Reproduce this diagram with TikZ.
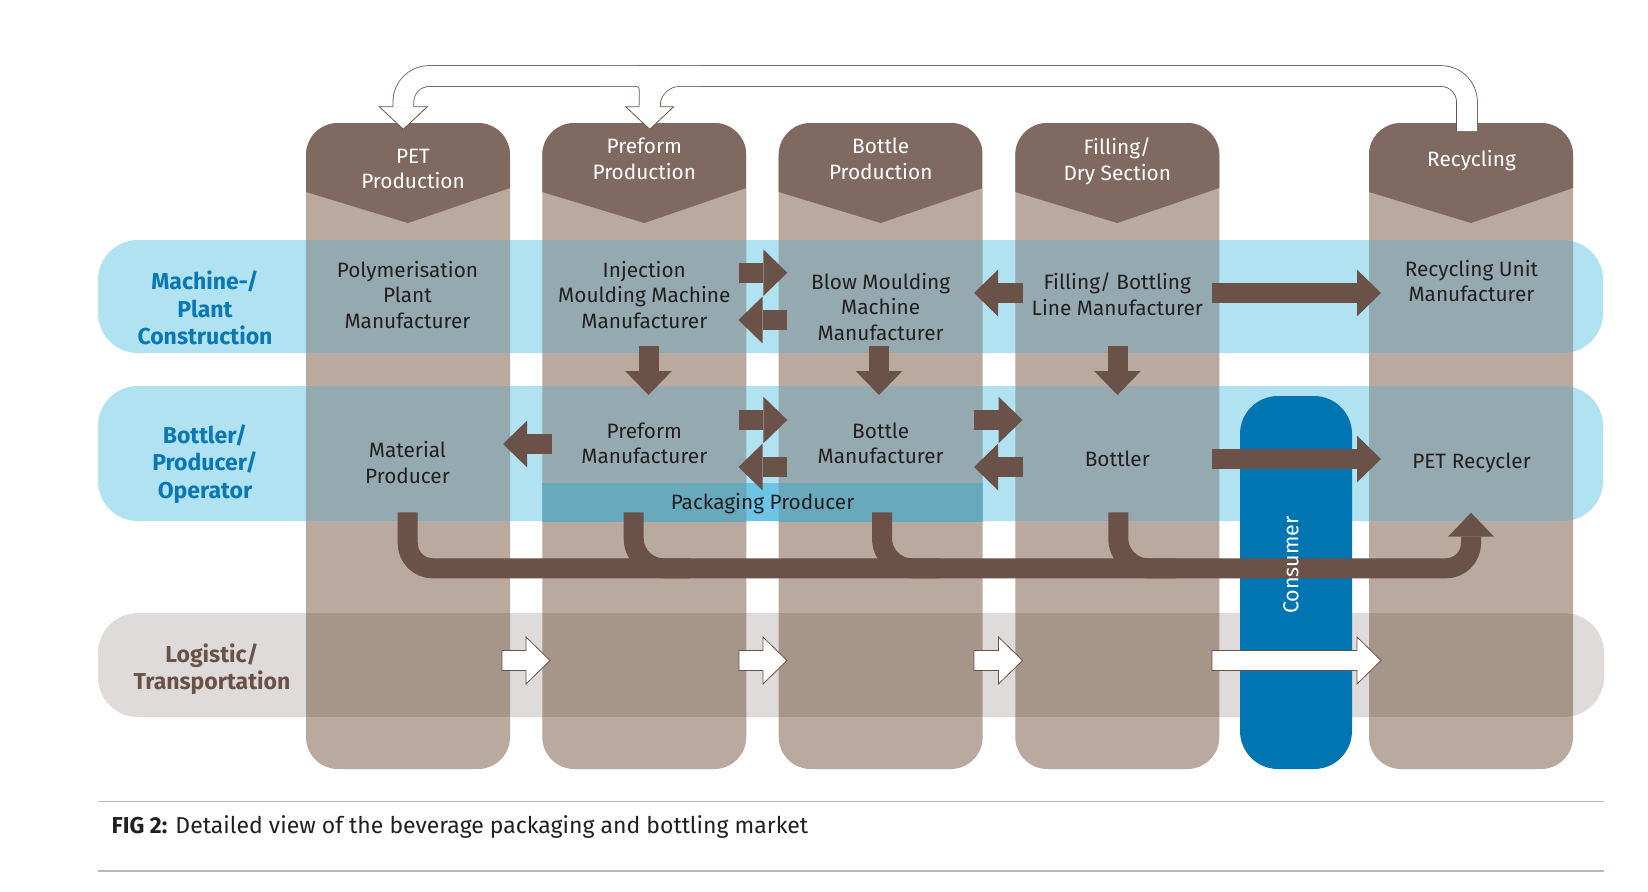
\documentclass[tikz,border=0pt]{standalone}
\usepackage{fontspec}
\setmainfont{Fira Sans}
\usetikzlibrary{calc,arrows.meta}
\definecolor{colbg}{HTML}{BAA99E}
\definecolor{colhd}{HTML}{7F6961}
\definecolor{bandblue}{HTML}{B0E2F1}
\definecolor{ovblue}{HTML}{95A9B0}
\definecolor{bandgrey}{HTML}{E0DBDB}
\definecolor{ovgrey}{HTML}{A69589}
\definecolor{packgap}{HTML}{6CC5E4}
\definecolor{packcol}{HTML}{69A9BC}
\definecolor{consumerblue}{HTML}{0075B1}
\definecolor{arrowbrown}{HTML}{6B5249}
\definecolor{rowblue}{HTML}{0B77B3}
\definecolor{rulegrey}{HTML}{BFB7B2}
\definecolor{celltxt}{HTML}{231F20}
\newcommand\colpath[1]{[rounded corners=32pt] (#1,123) rectangle ++(204,646)}
\newcommand\whitearrow[2]{%
  \coordinate (wac) at ($(#2)!24pt!(#1)$);
  \filldraw[fill=white, draw=arrowbrown, line width=0.8pt, line join=miter]
    ($(#1)!10pt!90:(#2)$) -- ($(wac)!10pt!-90:(#1)$) -- ($(wac)!23.5pt!-90:(#1)$) -- (#2)
    -- ($(wac)!23.5pt!90:(#1)$) -- ($(wac)!10pt!90:(#1)$) -- ($(#1)!10pt!-90:(#2)$) -- cycle;}
\tikzset{
  celltext/.style={align=center, inner sep=0pt, text=celltxt, font=\fontsize{20.8}{25.5}\selectfont},
  headtext/.style={align=center, inner sep=0pt, text=white, font=\fontsize{20.8}{25.8}\selectfont},
  rowlabel/.style={align=center, inner sep=0pt, font=\bfseries\fontsize{23}{27.5}\selectfont},
  brownarrow/.style={draw=arrowbrown, line width=20pt, -{Triangle[length=24pt, width=46.7pt, line width=0pt]}},
  flowbar/.style={draw=arrowbrown, line width=20pt, rounded corners=25pt},
  retout/.style={draw=arrowbrown, line width=21.6pt},
  retin/.style={draw=white, line width=20pt},
}
\begin{document}
\begin{tikzpicture}[x=1pt,y=-1pt]
\fill[white] (0,0) rectangle (1648,891);
\useasboundingbox (0,0) rectangle (1648,891);
% columns
\foreach \cx in {306,542.3,778.7,1015.3,1369}{
  \fill[colbg] \colpath{\cx};
  \begin{scope}
    \clip \colpath{\cx};
    \fill[colhd] (\cx,100) -- ++(204,0) -- ++(0,88) -- ++(-102,35) -- ++(-102,-31) -- cycle;
  \end{scope}
}
% bands
\fill[bandblue, rounded corners=40pt] (98,240) rectangle (1603,353);
\fill[bandblue, rounded corners=40pt] (98,386) rectangle (1603,521);
\fill[bandgrey, rounded corners=40pt] (98,613) rectangle (1604,717);
\begin{scope}
  \clip[rounded corners=40pt] (98,240) rectangle (1603,353);
  \foreach \cx in {306,542.3,778.7,1015.3,1369}{\fill[ovblue] \colpath{\cx};}
\end{scope}
\begin{scope}
  \clip[rounded corners=40pt] (98,386) rectangle (1603,521);
  \foreach \cx in {306,542.3,778.7,1015.3,1369}{\fill[ovblue] \colpath{\cx};}
\end{scope}
\begin{scope}
  \clip[rounded corners=40pt] (98,613) rectangle (1604,717);
  \foreach \cx in {306,542.3,778.7,1015.3,1369}{\fill[ovgrey] \colpath{\cx};}
\end{scope}
% packaging producer strip
\fill[packgap] (542.3,483.3) rectangle (982.7,521);
\begin{scope}
  \clip (542.3,483.3) rectangle (982.7,521);
  \foreach \cx in {542.3,778.7}{\fill[packcol] \colpath{\cx};}
\end{scope}
% consumer pillar
\fill[consumerblue, rounded corners=38pt] (1240,396) rectangle (1352,769);

% header texts
\node[headtext] (hPET) at (413,169) {PET\\Production};
\node[headtext] (hPre) at (644.3,159) {Preform\\Production};
\node[headtext] (hBot) at (880.7,159) {Bottle\\Production};
\node[headtext] (hFil) at (1117.3,161) {Filling/\\Dry Section};
\node[headtext] (hRec) at (1471.5,161) {Recycling};
% row labels
\node[rowlabel, text=rowblue] (rMach) at (205,308) {Machine-/\\Plant\\Construction};
\node[rowlabel, text=rowblue] (rBott) at (205,464) {Bottler/\\Producer/\\Operator};
\node[rowlabel, text=arrowbrown] (rLog) at (212,669) {Logistic/\\Transportation};
% cell texts
\node[celltext] (cPoly) at (407.5,295) {Polymerisation\\Plant\\Manufacturer};
\node[celltext] (cInj) at (644.3,295) {Injection\\Moulding Machine\\Manufacturer};
\node[celltext] (cBlow) at (880.7,307) {Blow Moulding\\Machine\\Manufacturer};
\node[celltext] (cFill) at (1117.3,294) {Filling/ Bottling\\Line Manufacturer};
\node[celltext] (cRecU) at (1471.5,281) {Recycling Unit\\Manufacturer};
\node[celltext] (cMat) at (407.5,462.5) {Material\\Producer};
\node[celltext] (cPreM) at (644.3,443.5) {Preform\\Manufacturer};
\node[celltext] (cBotM) at (880.7,443.5) {Bottle\\Manufacturer};
\node[celltext] (cBottler) at (1117.3,459) {Bottler};
\node[celltext] (cPETR) at (1471.5,463) {PET Recycler};
\node[celltext] (pack) at (762.5,504) {Packaging Producer};

% arrow end points
\coordinate (a1s) at (738.5,272.7); \coordinate (a1e) at (787.3,272.7);
\coordinate (a2s) at (787.3,320);   \coordinate (a2e) at (738.5,320);
\coordinate (a3s) at (1022.5,293);  \coordinate (a3e) at (974,293);
\coordinate (a4s) at (1212,293);    \coordinate (a4e) at (1381,293);
\coordinate (d1s) at (648.5,346);   \coordinate (d1e) at (648.5,395);
\coordinate (d2s) at (879,346);     \coordinate (d2e) at (879,395);
\coordinate (d3s) at (1117.5,346);  \coordinate (d3e) at (1117.5,395);
\coordinate (b1s) at (551.5,444);   \coordinate (b1e) at (503,444);
\coordinate (b2s) at (738.5,420);   \coordinate (b2e) at (787.3,420);
\coordinate (b3s) at (787.3,467);   \coordinate (b3e) at (738.5,467);
\coordinate (b4s) at (974,420);     \coordinate (b4e) at (1022.5,420);
\coordinate (b5s) at (1022.5,467);  \coordinate (b5e) at (974,467);
\coordinate (b6s) at (1212,459);    \coordinate (b6e) at (1381,459);
% brown arrows
\foreach \s/\e in {a1s/a1e,a2s/a2e,a3s/a3e,a4s/a4e,d1s/d1e,d2s/d2e,d3s/d3e,b1s/b1e,b2s/b2e,b3s/b3e,b4s/b4e,b5s/b5e,b6s/b6e}
  {\draw[brownarrow] (\s) -- (\e);}

% collecting flow bar
\coordinate (fb0) at (407.7,512.3);
\coordinate (fbL) at (407.7,568.3);
\coordinate (fbR) at (1471,568.3);
\coordinate (fbend) at (1471,512.7);
\draw[flowbar, -{Triangle[length=24pt, width=46pt, line width=0pt]}] (fb0) -- (fbL) -- (fbR) -- (fbend);
\coordinate (br1) at (633.7,512.3); \coordinate (br1e) at (690,568.3);
\coordinate (br2) at (882,512.3);   \coordinate (br2e) at (940,568.3);
\coordinate (br3) at (1118.3,512.3);\coordinate (br3e) at (1176,568.3);
\draw[flowbar, rounded corners=30pt] (br1) |- (br1e);
\draw[flowbar, rounded corners=30pt] (br2) |- (br2e);
\draw[flowbar, rounded corners=30pt] (br3) |- (br3e);

% logistic white arrows
\coordinate (l1s) at (502,660.5);  \coordinate (l1e) at (550,660.5);
\coordinate (l2s) at (739,660.5);  \coordinate (l2e) at (787,660.5);
\coordinate (l3s) at (974,660.5);  \coordinate (l3e) at (1022.5,660.5);
\coordinate (l4s) at (1212,660.5); \coordinate (l4e) at (1381,660.5);
\whitearrow{l1s}{l1e}
\whitearrow{l2s}{l2e}
\whitearrow{l3s}{l3e}
\whitearrow{l4s}{l4e}

% consumer label
\node[inner sep=0pt, text=white, rotate=90, font=\fontsize{21.5}{25}\selectfont] (consumer) at (1291,565) {Consumer};

% return arrow at the top
\coordinate (ra0) at (1467,131);
\coordinate (ra1) at (1467,76);
\coordinate (ra2) at (403.3,76);
\coordinate (ra3) at (403.3,107.5);
\coordinate (rbl) at (600,76);
\coordinate (rbr) at (700,76);
\coordinate (rbm) at (649.7,76);
\coordinate (rbe) at (649.7,107.5);
\coordinate (tipPET) at (403.3,129.3);
\coordinate (tipPre) at (649.7,129.3);
\draw[retout, rounded corners=26pt] (ra0) -- (ra1) -- (ra2) -- (ra3);
\draw[retout, rounded corners=13pt] (rbl) -- (rbm) -- (rbe);
\draw[retout, rounded corners=30pt] (rbr) -- (rbm) -- (rbe);
\foreach \t in {tipPET,tipPre}{
  \filldraw[fill=white, draw=arrowbrown, line width=0.8pt, line join=miter]
    ($(\t)+(-24,-22.6)$) -- (\t) -- ($(\t)+(24,-22.6)$) -- cycle;}
\draw[retin, rounded corners=26pt] (ra0) -- (ra1) -- (ra2) -- (ra3);
\draw[retin, rounded corners=13pt] (rbl) -- (rbm) -- (rbe);
\draw[retin, rounded corners=30pt] (rbr) -- (rbm) -- (rbe);

% caption
\coordinate (r1a) at (98,801.7);  \coordinate (r1b) at (1604,801.7);
\coordinate (r2a) at (98,871);    \coordinate (r2b) at (1604,871);
\draw[rulegrey, line width=1.3pt] (r1a) -- (r1b);
\draw[rulegrey, line width=1.3pt] (r2a) -- (r2b);
\node[anchor=base west, inner sep=0pt, text=celltxt, font=\fontsize{23}{27}\selectfont] (caption) at (111.5,833.3)
  {\textbf{FIG 2:} Detailed view of the beverage packaging and bottling market};
\end{tikzpicture}
\end{document}
